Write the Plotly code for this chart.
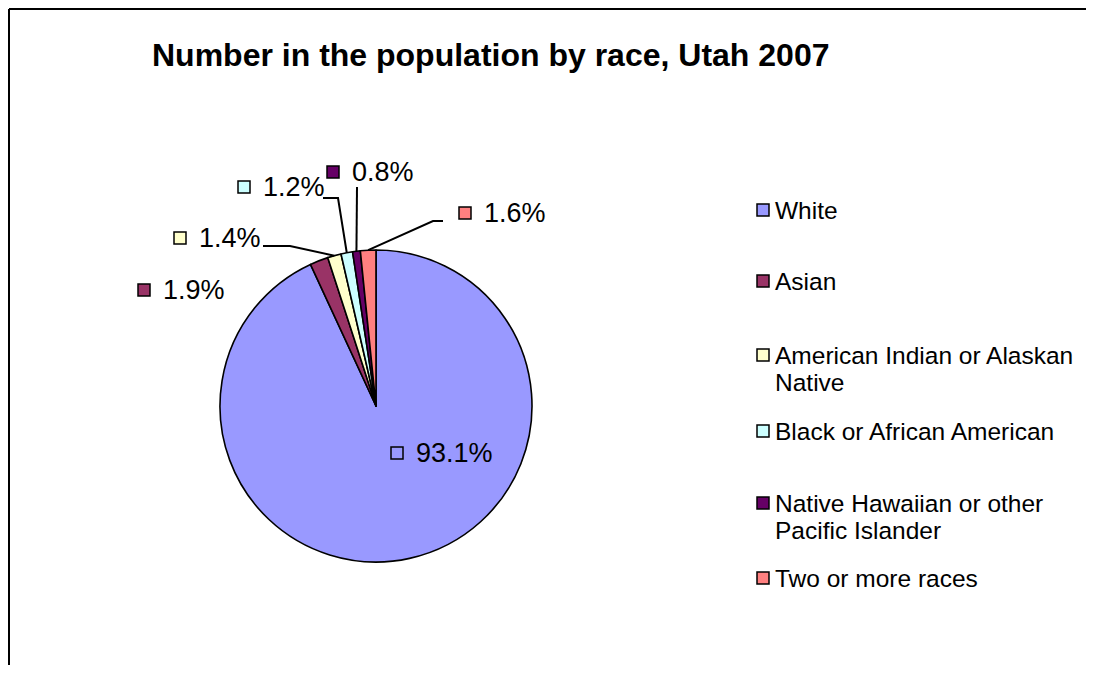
import math
import plotly.graph_objects as go

# ---- data ----
categories = ["White", "Asian", "American Indian or Alaskan Native",
              "Black or African American",
              "Native Hawaiian or other Pacific Islander", "Two or more races"]
percent = [93.1, 1.9, 1.4, 1.2, 0.8, 1.6]
legend_lines = [["White"], ["Asian"], ["American Indian or Alaskan", "Native"],
                ["Black or African American"],
                ["Native Hawaiian or other", "Pacific Islander"],
                ["Two or more races"]]
title_text = "Number in the population by race, Utah 2007"

# ---- style / layout ----
colors = ["#9999FF", "#993366", "#FFFFCC", "#CCFFFF", "#660066", "#FF8080"]
VW, VH = 1094, 673        # browser window
OFF = 8                   # page body margin
W, H = VW - 2 * OFF, VH - 2 * OFF
FONT = "Liberation Sans, Arial, sans-serif"
CX, CY, R = 376, 406, 156          # pie centre / radius in window pixels
# label placement: (text left x, text centre y, leader points before the slice edge)
label_layout = [
    (416, 453, None),
    (163, 290, None),
    (199, 238, [(263, 246), (290, 246)]),
    (263, 187, [(323, 198), (338, 198)]),
    (352, 172, [(357, 187)]),
    (484, 213, [(443, 221), (433, 221)]),
]
legend_x_key, legend_x_text = 757, 775
legend_y = [210, 281, 355, 431, 503, 578]
legend_line_gap = 27


def px(x):
    return (x - OFF) / W


def py(y):
    return 1 - (y - OFF) / H


fig = go.Figure()
fig.add_trace(go.Pie(
    labels=categories, values=percent, sort=False, direction="clockwise",
    rotation=0, textinfo="none", showlegend=False,
    marker=dict(colors=colors, line=dict(color="black", width=1.6)),
    domain=dict(x=[px(CX - R), px(CX + R)], y=[py(CY + R), py(CY - R)]),
    hovertemplate="%{label}: %{value}%<extra></extra>",
))

shapes = []
annotations = []

# frame
shapes.append(dict(type="line", xref="paper", yref="paper", x0=px(9), x1=1, y0=py(9), y1=py(9),
                   line=dict(color="black", width=2)))
shapes.append(dict(type="line", xref="paper", yref="paper", x0=px(9), x1=px(9), y0=py(9), y1=0,
                   line=dict(color="black", width=2)))

annotations.append(dict(xref="paper", yref="paper", x=px(150), y=py(55), xanchor="left", yanchor="middle",
                        text=f"<b>{title_text}</b>", showarrow=False,
                        font=dict(family=FONT, size=32, color="black")))

# data labels with key squares and leader lines
total = sum(percent)
cum = 0.0
for i, v in enumerate(percent):
    mid = (cum + v / 2) / total * 2 * math.pi
    cum += v
    ex = CX + R * math.sin(mid)
    ey = CY - R * math.cos(mid)
    tx, ty, leader = label_layout[i]
    annotations.append(dict(xref="paper", yref="paper", x=px(tx - 2), y=py(ty), xanchor="left", yanchor="middle",
                            text=f"{v:.1f}%", showarrow=False,
                            font=dict(family=FONT, size=27, color="black")))
    shapes.append(dict(type="rect", xref="paper", yref="paper",
                       x0=px(tx - 25), x1=px(tx - 13), y0=py(ty - 6), y1=py(ty + 6),
                       fillcolor=colors[i], line=dict(color="black", width=1.5)))
    if leader:
        pts = leader + [(ex, ey)]
        path = "M " + " L ".join(f"{px(a)},{py(b)}" for a, b in pts)
        shapes.append(dict(type="path", xref="paper", yref="paper", path=path,
                           line=dict(color="black", width=2)))

# legend
for i, lines in enumerate(legend_lines):
    y0 = legend_y[i]
    shapes.append(dict(type="rect", xref="paper", yref="paper",
                       x0=px(legend_x_key), x1=px(legend_x_key + 12), y0=py(y0 - 6), y1=py(y0 + 6),
                       fillcolor=colors[i], line=dict(color="black", width=1.5)))
    for j, line in enumerate(lines):
        annotations.append(dict(xref="paper", yref="paper", x=px(legend_x_text - 2), y=py(y0 + j * legend_line_gap),
                                xanchor="left", yanchor="middle", text=line, showarrow=False,
                                font=dict(family=FONT, size=24.5, color="black")))

fig.update_layout(
    width=W, height=H, margin=dict(l=0, r=0, t=0, b=0),
    paper_bgcolor="white", plot_bgcolor="white",
    shapes=shapes, annotations=annotations,
)
fig.write_html("out.html")
